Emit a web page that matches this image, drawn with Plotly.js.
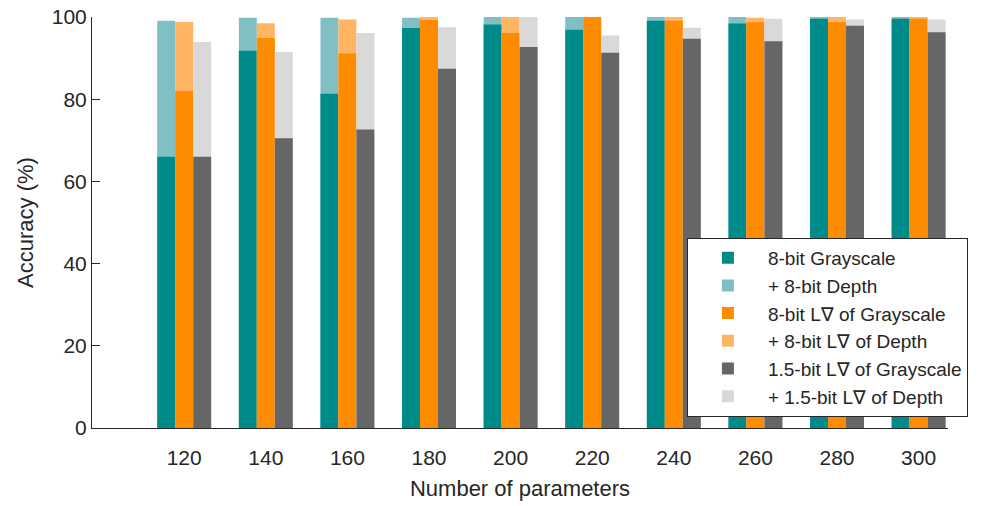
<!DOCTYPE html>
<html>
<head>
<meta charset="utf-8">
<script src="https://cdn.plot.ly/plotly-3.0.1.min.js"></script>
<style>html,body{margin:0;padding:0;background:#fff;}#chart{width:1001px;height:506px;}</style>
</head>
<body>
<div id="chart"></div>
<script>
const params = [120, 140, 160, 180, 200, 220, 240, 260, 280, 300];
const gray8 = [66, 91.8, 81.3, 97.3, 98.2, 96.9, 99.1, 98.4, 99.6, 99.6];
const gray8Depth = [99.1, 99.8, 99.8, 99.8, 100, 100, 100, 100, 100, 100];
const lgrad8 = [82, 94.9, 91.1, 99.3, 96.1, 100, 99.1, 98.7, 98.7, 99.6];
const lgrad8Depth = [98.8, 98.5, 99.4, 100, 100, 100, 100, 99.8, 100, 100];
const lgrad15 = [66, 70.5, 72.6, 87.4, 92.7, 91.3, 94.7, 94.1, 97.9, 96.3];
const lgrad15Depth = [93.9, 91.5, 96.1, 97.5, 100, 95.5, 97.4, 99.6, 99.4, 99.4];

const names = ['8-bit Grayscale', '+ 8-bit Depth', '8-bit L\u2207 of Grayscale',
  '+ 8-bit L\u2207 of Depth', '1.5-bit L\u2207 of Grayscale', '+ 1.5-bit L\u2207 of Depth'];

function bar(y, name, color, group, rank) {
  return {type: 'bar', x: params, y: y, name: name, offsetgroup: group,
    marker: {color: color, line: {width: 0}}, legendrank: rank, hoverinfo: 'x+y+name'};
}

const traces = [
  bar(gray8Depth, names[1], '#80C0C5', 'a', 2),
  bar(gray8, names[0], '#008B8B', 'a', 1),
  bar(lgrad8Depth, names[3], '#FFB564', 'b', 4),
  bar(lgrad8, names[2], '#FF8C00', 'b', 3),
  bar(lgrad15Depth, names[5], '#D9D9D9', 'c', 6),
  bar(lgrad15, names[4], '#666666', 'c', 5)
];

const font = {family: '"Liberation Sans", Arial, Helvetica, sans-serif', color: '#262626'};

const layout = {
  width: 1001, height: 506,
  margin: {l: 92, r: 53, t: 17, b: 78},
  paper_bgcolor: '#fff', plot_bgcolor: '#fff',
  barmode: 'group', bargap: 0.339, bargroupgap: 0,
  font: font,
  showlegend: true,
  legend: {
    x: 0.695, y: 0.4626, xanchor: 'left', yanchor: 'top',
    bgcolor: '#fff', bordercolor: '#262626', borderwidth: 1,
    font: {family: font.family, size: 19, color: '#262626'},
    traceorder: 'normal', itemwidth: 70, tracegroupgap: 0,
    entrywidth: 300, entrywidthmode: 'pixels'
  },
  xaxis: {
    range: [97.4, 307.2], tickvals: params, ticktext: params.map(String),
    showline: true, linecolor: '#262626', linewidth: 1, ticks: '',
    showgrid: false, zeroline: false, ticklabelstandoff: 11,
    tickfont: {family: font.family, size: 21, color: '#262626'},
    title: {text: 'Number of parameters', font: {family: font.family, size: 22, color: '#262626'}, standoff: 12}
  },
  yaxis: {
    range: [0, 100], dtick: 20, tick0: 0,
    showline: true, linecolor: '#262626', linewidth: 1, ticks: 'inside', ticklen: 8, tickcolor: '#262626',
    showgrid: false, zeroline: false,
    tickfont: {family: font.family, size: 21, color: '#262626'},
    title: {text: 'Accuracy (%)', font: {family: font.family, size: 22, color: '#262626'}, standoff: 12}
  }
};

Plotly.newPlot('chart', traces, layout, {displayModeBar: false, staticPlot: true});
</script>
</body>
</html>
